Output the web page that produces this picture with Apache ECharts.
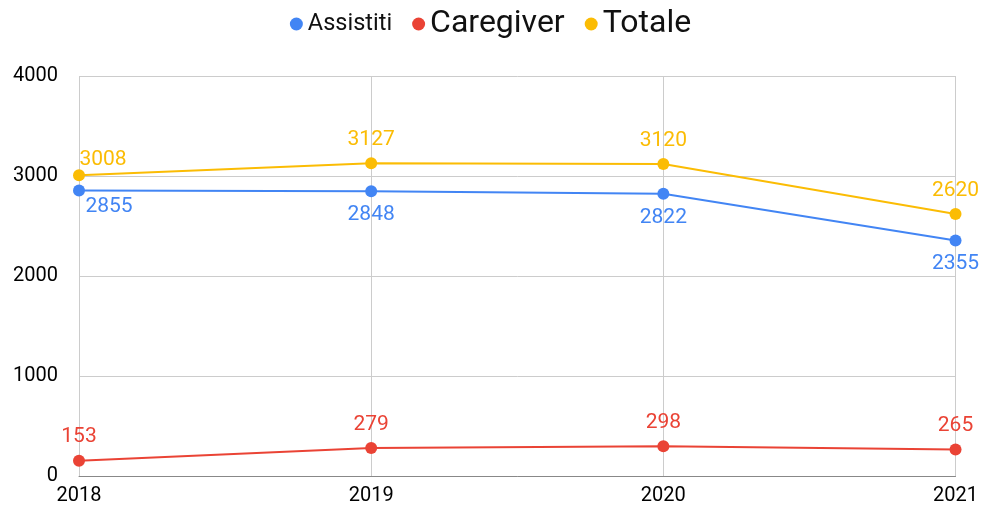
<!DOCTYPE html>
<html>
<head>
<meta charset="utf-8">
<script src="https://cdn.jsdelivr.net/npm/echarts@6/dist/echarts.min.js"></script>
<style>
  html, body { margin: 0; padding: 0; background: #fff; }
  #main { width: 981px; height: 507px; }
</style>
</head>
<body>
<div id="main"></div>
<script>
// dati del grafico
const years = ['2018', '2019', '2020', '2021'];
const assistiti = [2855, 2848, 2822, 2355];
const caregiver = [153, 279, 298, 265];
const totale = [3008, 3127, 3120, 2620];

const chart = echarts.init(document.getElementById('main'));

// primo punto: etichetta spostata a destra come nell'originale
function withFirstOffset(values, offset) {
  return values.map(function (v, i) {
    if (i === 0) return { value: v, label: { offset: offset } };
    return v;
  });
}

function lineSeries(name, color, data, pos) {
  return {
    name: name,
    type: 'line',
    data: data,
    symbol: 'circle',
    symbolSize: 12,
    lineStyle: { width: 2, color: color },
    itemStyle: { color: color },
    label: {
      show: true,
      position: pos,
      distance: 7,
      color: color,
      fontSize: 21,
      fontFamily: 'Roboto'
    }
  };
}

const option = {
  animation: false,
  textStyle: { fontFamily: 'Roboto' },
  legend: {
    top: 3,
    left: 'center',
    icon: 'circle',
    itemWidth: 13,
    itemHeight: 13,
    itemGap: 20,
    textStyle: { color: '#111', fontFamily: 'Roboto', fontSize: 32 },
    data: [
      { name: 'Assistiti', textStyle: { fontSize: 23.5 } },
      { name: 'Caregiver', textStyle: { fontSize: 32 } },
      { name: 'Totale', textStyle: { fontSize: 32 } }
    ]
  },
  grid: { left: 79, right: 23, top: 76, bottom: 31 },
  xAxis: {
    type: 'category',
    data: years,
    boundaryGap: false,
    axisLine: { lineStyle: { color: '#888' } },
    axisTick: { show: false },
    splitLine: { show: true, lineStyle: { color: '#ccc' } },
    axisLabel: { color: '#000', fontSize: 20, margin: 10 }
  },
  yAxis: {
    type: 'value',
    min: 0,
    max: 4000,
    interval: 1000,
    axisLine: { show: false },
    axisTick: { show: false },
    splitLine: { lineStyle: { color: '#ccc' } },
    axisLabel: {
      color: '#000',
      fontSize: 20,
      margin: 21,
      formatter: function (v) { return String(v); }
    }
  },
  series: [
    lineSeries('Assistiti', '#4285F4', withFirstOffset(assistiti, [30, -7]), 'bottom'),
    lineSeries('Caregiver', '#EA4335', caregiver, 'top'),
    lineSeries('Totale', '#FBBC04', withFirstOffset(totale, [24, 8]), 'top')
  ]
};

chart.setOption(option);
</script>
</body>
</html>
